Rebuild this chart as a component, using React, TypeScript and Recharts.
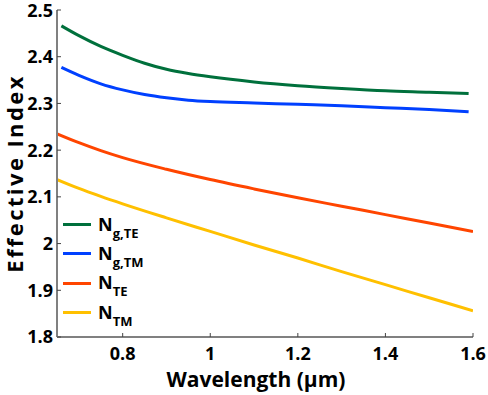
import { LineChart, Line, XAxis, YAxis, Legend } from "recharts";

// group index curves (sampled 0.66 - 1.59 um)
const groupWavelength = [0.66, 0.7, 0.75, 0.8, 0.85, 0.9, 0.95, 1.0, 1.1, 1.2, 1.3, 1.4, 1.5, 1.59];
const ngTE = [2.466, 2.445, 2.422, 2.403, 2.386, 2.373, 2.364, 2.357, 2.346, 2.338, 2.332, 2.327, 2.324, 2.321];
const ngTM = [2.377, 2.36, 2.342, 2.329, 2.319, 2.312, 2.307, 2.304, 2.301, 2.298, 2.295, 2.291, 2.287, 2.282];

// effective index curves (0.65 - 1.6 um)
const modeWavelength = [0.65, 0.7, 0.75, 0.8, 0.9, 1.0, 1.1, 1.2, 1.3, 1.4, 1.5, 1.6];
const nTE = [2.235, 2.216, 2.199, 2.184, 2.159, 2.137, 2.117, 2.098, 2.08, 2.062, 2.044, 2.026];
const nTM = [2.137, 2.118, 2.101, 2.085, 2.055, 2.026, 1.997, 1.969, 1.94, 1.912, 1.884, 1.856];

const xTicks = [0.8, 1, 1.2, 1.4, 1.6];
const yTicks = [1.8, 1.9, 2, 2.1, 2.2, 2.3, 2.4, 2.5];

const seriesNames = ["Ng,TE", "Ng,TM", "NTE", "NTM"];
const seriesSubs = ["g,TE", "g,TM", "TE", "TM"];
const seriesColors = ["#00703c", "#0040ff", "#ff4500", "#ffc000"];

const toRows = (xs: number[], ys: number[]) =>
    xs.map((wavelength, i) => ({ wavelength, value: ys[i] }));

const series = [
    toRows(groupWavelength, ngTE),
    toRows(groupWavelength, ngTM),
    toRows(modeWavelength, nTE),
    toRows(modeWavelength, nTM),
];

const FONT = "'Open Sans', sans-serif";
const AXIS_GRAY = "#808080";
const tickStyle = { fill: "#000", fontSize: 18, fontWeight: 700, fontFamily: FONT };
const labelStyle = { fill: "#000", fontSize: 21, fontWeight: 700, fontFamily: FONT };
const fmt = (v: number) => String(v);
const blank = () => "";

function LegendBox() {
    return (
        <div style={{ fontFamily: FONT, fontWeight: 700, color: "#000" }}>
            {seriesNames.map((name, i) => (
                <div key={name} style={{ display: "flex", alignItems: "center", height: 29.3 }}>
                    <div style={{ width: 28, height: 3, background: seriesColors[i] }} />
                    <span style={{ marginLeft: 7, fontSize: 18, lineHeight: "18px", whiteSpace: "nowrap" }}>
                        N
                        <span style={{ fontSize: 13, position: "relative", top: 7 }}>{seriesSubs[i]}</span>
                    </span>
                </div>
            ))}
        </div>
    );
}

export default function App() {
    return (
        <div>
            <style>{`body{margin:0}`}</style>
            <LineChart
                width={488}
                height={395}
                margin={{ top: 10, right: 15, bottom: 0, left: 0 }}
            >
                <XAxis
                    dataKey="wavelength"
                    type="number"
                    domain={[0.65, 1.6]}
                    ticks={xTicks}
                    allowDataOverflow
                    height={58}
                    tickSize={-4}
                    tickMargin={14}
                    tickFormatter={fmt}
                    tick={tickStyle}
                    axisLine={{ stroke: AXIS_GRAY, strokeWidth: 2 }}
                    tickLine={{ stroke: "#444" }}
                    label={{ value: "Wavelength (μm)", position: "insideBottom", offset: 8, dx: -9, style: labelStyle }}
                />
                <XAxis
                    xAxisId="top"
                    orientation="top"
                    dataKey="wavelength"
                    type="number"
                    domain={[0.65, 1.6]}
                    ticks={xTicks}
                    allowDataOverflow
                    height={0}
                    tickSize={-4}
                    tickFormatter={blank}
                    axisLine={{ stroke: AXIS_GRAY, strokeWidth: 2 }}
                    tickLine={{ stroke: "#444" }}
                />
                <YAxis
                    type="number"
                    domain={[1.8, 2.5]}
                    ticks={yTicks}
                    allowDataOverflow
                    width={57}
                    tickSize={-4}
                    tickMargin={8}
                    tickFormatter={fmt}
                    tick={tickStyle}
                    axisLine={{ stroke: AXIS_GRAY, strokeWidth: 2 }}
                    tickLine={{ stroke: "#444" }}
                    label={{
                        value: "Effective Index",
                        angle: -90,
                        position: "insideLeft",
                        offset: 15,
                        style: { ...labelStyle, fontSize: 22, letterSpacing: 2.4, textAnchor: "middle" },
                    }}
                />
                <YAxis
                    yAxisId="right"
                    orientation="right"
                    type="number"
                    domain={[1.8, 2.5]}
                    ticks={yTicks}
                    allowDataOverflow
                    width={0}
                    tickSize={-4}
                    tickFormatter={blank}
                    axisLine={{ stroke: AXIS_GRAY, strokeWidth: 2 }}
                    tickLine={{ stroke: "#444" }}
                />
                <Legend
                    layout="vertical"
                    align="center"
                    verticalAlign="middle"
                    content={<LegendBox />}
                    wrapperStyle={{ left: 63, top: 210, width: "auto" }}
                />
                {series.map((rows, i) => (
                    <Line
                        key={seriesNames[i]}
                        data={rows}
                        dataKey="value"
                        name={seriesNames[i]}
                        stroke={seriesColors[i]}
                        strokeWidth={3}
                        dot={false}
                        type="monotone"
                        isAnimationActive={false}
                    />
                ))}
            </LineChart>
        </div>
    );
}
